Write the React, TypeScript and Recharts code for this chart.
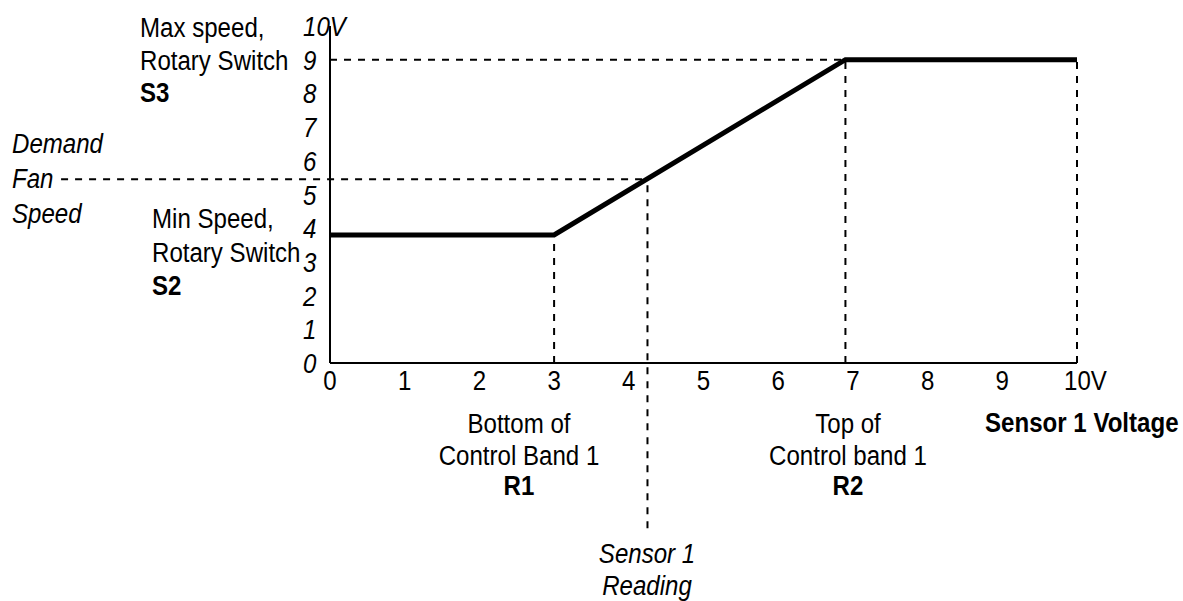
import React from "react";
import { ComposedChart, Line, XAxis, YAxis, ReferenceLine } from "recharts";

// fan speed output (V) against sensor 1 input (V)
const curve = [
  { sensor: 0, speed: 3.8 },
  { sensor: 3, speed: 3.8 },
  { sensor: 6.9, speed: 9 },
  { sensor: 10, speed: 9 },
];

const xTicks = [0, 1, 2, 3, 4, 5, 6, 7, 8, 9, 10];
const yTicks = [0, 1, 2, 3, 4, 5, 6, 7, 8, 9, 10];

const minSpeed = 3.8;
const maxSpeed = 9;
const bandBottom = 3;
const bandTop = 6.9;
const sensorMax = 10;
const sensorReading = 4.25;
const demandSpeed = 5.45;

const FONT = '"Liberation Sans", Arial, sans-serif';
const dash = { stroke: "#000", strokeWidth: 2, strokeDasharray: "7 7" };

// text in the original is a tall, slightly condensed Arial
const Txt = ({ x, y, children, anchor = "start", bold = false, italic = false }: any) => (
  <text
    transform={`translate(${x},${y}) scale(0.86,1)`}
    fontFamily={FONT}
    fontSize={28}
    fill="#000"
    textAnchor={anchor}
    fontWeight={bold ? "bold" : "normal"}
    fontStyle={italic ? "italic" : "normal"}
  >
    {children}
  </text>
);

const YTick = (props: any) => {
  const { x, y, payload } = props;
  return (
    <Txt x={x - 27} y={y + 10} italic>
      {payload.value === 10 ? "10V" : payload.value}
    </Txt>
  );
};

const XTick = (props: any) => {
  const { x, y, payload } = props;
  const last = payload.value === 10;
  return (
    <Txt x={last ? x - 13 : x} y={y + 27} anchor={last ? "start" : "middle"}>
      {last ? "10V" : payload.value}
    </Txt>
  );
};

export default function App() {
  return (
    <div style={{ position: "absolute", left: 0, top: 0, width: 1183, height: 601, background: "#fff" }}>
      <ComposedChart width={1183} height={601} data={curve} margin={{ top: 26, right: 106, bottom: 208, left: 0 }}>
        <XAxis
          dataKey="sensor"
          type="number"
          domain={[0, 10]}
          ticks={xTicks}
          height={30}
          tickSize={0}
          tickMargin={0}
          tick={<XTick />}
          axisLine={{ stroke: "#000", strokeWidth: 2 }}
          tickLine={false}
        />
        <YAxis
          type="number"
          domain={[0, 10]}
          ticks={yTicks}
          width={330}
          tickSize={0}
          tickMargin={0}
          tick={<YTick />}
          axisLine={{ stroke: "#000", strokeWidth: 2 }}
          tickLine={false}
        />
        <ReferenceLine segment={[{ x: 0, y: maxSpeed }, { x: bandTop, y: maxSpeed }]} {...dash} />
        <ReferenceLine segment={[{ x: bandBottom, y: 0 }, { x: bandBottom, y: minSpeed }]} {...dash} />
        <ReferenceLine segment={[{ x: bandTop, y: 0 }, { x: bandTop, y: maxSpeed }]} {...dash} />
        <ReferenceLine segment={[{ x: sensorMax, y: 0 }, { x: sensorMax, y: maxSpeed }]} {...dash} />
        <ReferenceLine segment={[{ x: -3.6, y: demandSpeed }, { x: sensorReading, y: demandSpeed }]} ifOverflow="visible" {...dash} />
        <ReferenceLine segment={[{ x: sensorReading, y: -4.9 }, { x: sensorReading, y: demandSpeed }]} ifOverflow="visible" {...dash} />
        <Line dataKey="speed" type="linear" stroke="#000" strokeWidth={5} dot={false} isAnimationActive={false} />
      </ComposedChart>
      <svg width={1183} height={601} style={{ position: "absolute", left: 0, top: 0, pointerEvents: "none" }}>
        <Txt x={140} y={37}>Max speed,</Txt>
        <Txt x={140} y={70}>Rotary Switch</Txt>
        <Txt x={140} y={102} bold>S3</Txt>

        <Txt x={12} y={153} italic>Demand</Txt>
        <Txt x={12} y={188} italic>Fan</Txt>
        <Txt x={12} y={223} italic>Speed</Txt>

        <Txt x={152} y={228}>Min Speed,</Txt>
        <Txt x={152} y={262}>Rotary Switch</Txt>
        <Txt x={152} y={295} bold>S2</Txt>

        <Txt x={519} y={433} anchor="middle">Bottom of</Txt>
        <Txt x={519} y={465} anchor="middle">Control Band 1</Txt>
        <Txt x={519} y={495} anchor="middle" bold>R1</Txt>

        <Txt x={848} y={433} anchor="middle">Top of</Txt>
        <Txt x={848} y={465} anchor="middle">Control band 1</Txt>
        <Txt x={848} y={495} anchor="middle" bold>R2</Txt>

        <Txt x={985} y={432} bold>Sensor 1 Voltage</Txt>

        <Txt x={647} y={563} anchor="middle" italic>Sensor 1</Txt>
        <Txt x={647} y={595} anchor="middle" italic>Reading</Txt>
      </svg>
    </div>
  );
}
